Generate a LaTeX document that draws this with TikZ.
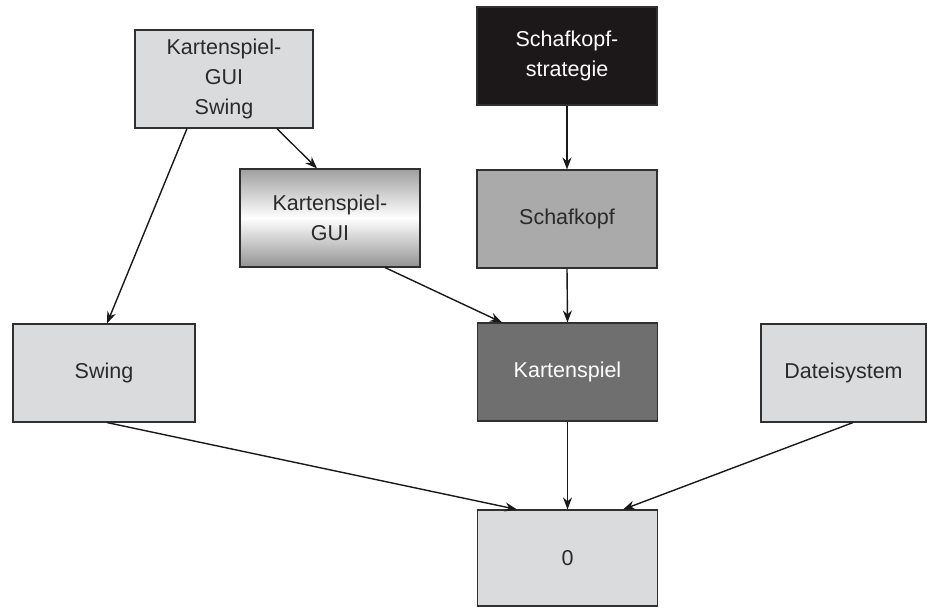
\documentclass[tikz,border=0pt]{standalone}
\usepackage{fontspec}
\setmainfont{Liberation Sans}
\usetikzlibrary{arrows.meta}
\definecolor{boxline}{HTML}{303030}
\definecolor{lightfill}{HTML}{DADBDC}
\definecolor{midfill}{HTML}{AAAAAA}
\definecolor{darkfill}{HTML}{6F6F6F}
\definecolor{blackfill}{HTML}{1C1819}
\definecolor{txt}{HTML}{2A2A2A}
\tikzset{
  module/.style={draw=boxline, line width=1.1pt, inner sep=0pt,
    minimum width=180pt, minimum height=98pt, align=center,
    font=\fontsize{21.5}{30}\selectfont, text=txt},
  light/.style={module, fill=lightfill},
  mid/.style={module, fill=midfill},
  dark/.style={module, fill=darkfill, text=white},
  black/.style={module, fill=blackfill, text=white},
  metal/.style={module, top color=gray!75, bottom color=gray!85,
    middle color=white},
  dep/.style={draw=black!90, line width=1.4pt,
    -{Stealth[length=12pt,width=9pt]}}
}
\begin{document}
\begin{tikzpicture}[x=1pt,y=-1pt]
  \fill[white] (0,0) rectangle (928,608);
  \useasboundingbox (0,0) rectangle (928,608);

  % modules
  \node[light, minimum width=178pt] (gsw)   at (224,79)    {Kartenspiel-\\GUI\\Swing};
  \node[metal]                      (kgui)  at (330,218)   {Kartenspiel-\\GUI};
  \node[black]                      (strat) at (567,56)    {Schafkopf-\\strategie};
  \node[mid]                        (schaf) at (567,219)   {Schafkopf};
  \node[light, minimum width=182pt] (swing) at (104,373)   {Swing};
  \node[dark]                       (karten) at (567.5,372) {Kartenspiel};
  \node[light, minimum width=165pt] (datei) at (843.5,373) {Dateisystem};
  \node[light, minimum height=96pt] (zero)  at (567.5,558) {0};

  % dependencies
  \draw[dep] ([xshift=-37pt]gsw.south) -- ([xshift=3pt]swing.north);
  \draw[dep] ([xshift=53pt]gsw.south) -- ([xshift=-13pt]kgui.north);
  \draw[dep] (strat.south) -- (schaf.north);
  \draw[dep] ([xshift=55pt]kgui.south) -- ([xshift=-65.5pt]karten.north);
  \draw[dep] (schaf.south) -- (karten.north);
  \draw[dep] ([xshift=3pt]swing.south) -- ([xshift=-50.5pt]zero.north);
  \draw[dep] (karten.south) -- (zero.north);
  \draw[dep] ([xshift=9.5pt]datei.south) -- ([xshift=55.5pt]zero.north);
\end{tikzpicture}
\end{document}
